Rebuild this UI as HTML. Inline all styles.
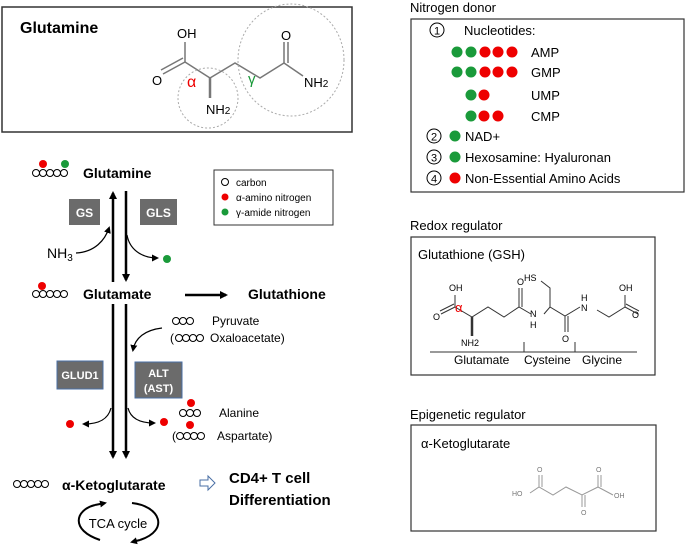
<!DOCTYPE html>
<html><head><style>
body{margin:0;background:#fff}
svg{display:block;font-family:"Liberation Sans",sans-serif}
.b{font-weight:bold}
</style></head><body>
<svg width="685" height="547" viewBox="0 0 685 547">
<defs>
<marker id="ah" markerWidth="8" markerHeight="8" refX="6" refY="4" orient="auto" markerUnits="userSpaceOnUse"><path d="M0,0L8,4L0,8z" fill="#000"/></marker>
<marker id="as" markerWidth="7" markerHeight="7" refX="5" refY="3.5" orient="auto" markerUnits="userSpaceOnUse"><path d="M0,0L7,3.5L0,7z" fill="#000"/></marker>
<g id="c3"><circle cx="0" cy="0" r="3.5"/><circle cx="7" cy="0" r="3.5"/><circle cx="14" cy="0" r="3.5"/></g>
<g id="c4"><use href="#c3"/><circle cx="21" cy="0" r="3.5"/></g>
<g id="c5"><use href="#c4"/><circle cx="28" cy="0" r="3.5"/></g>
</defs>
<!-- Top glutamine box -->
<rect x="2" y="7" width="350" height="125" fill="none" stroke="#333" stroke-width="1.5"/>
<text x="20" y="33" class="b" font-size="16">Glutamine</text>
<g stroke="#777" stroke-width="1.5" fill="none">
<path d="M185,62 L210,78 L235,63 L260,78 L284,63"/>
<path d="M185,62 L185,42"/><path d="M185,62 L163,74 M183,58 L161,70"/>
<path d="M284,63 L284,42 M288,63 L288,42"/><path d="M284,63 L303,76"/>
<path d="M210,78 L210,98" stroke-width="2.5"/>
</g>
<text x="177" y="38" font-size="13">OH</text>
<text x="152" y="85" font-size="13">O</text>
<text x="281" y="40" font-size="13">O</text>
<text x="206" y="114" font-size="13">NH<tspan font-size="10">2</tspan></text>
<text x="304" y="87" font-size="13">NH<tspan font-size="10">2</tspan></text>
<text x="187" y="87" font-size="16" fill="#e00">α</text>
<text x="248" y="84" font-size="15" fill="#1a9a3a">γ</text>
<circle cx="208" cy="98" r="30" fill="none" stroke="#aaa" stroke-dasharray="2,2"/>
<ellipse cx="291" cy="60" rx="53" ry="56" fill="none" stroke="#aaa" stroke-dasharray="2,2"/>

<!-- carbon chains -->
<g fill="#fff" stroke="#000" stroke-width="1">
<use href="#c5" x="36" y="173"/>
<use href="#c5" x="36" y="294"/>
<use href="#c5" x="17" y="484"/>
<use href="#c3" x="176" y="321"/>
<use href="#c4" x="179" y="338"/>
<use href="#c3" x="183" y="413"/>
<use href="#c4" x="180" y="436"/>
</g>
<circle cx="43" cy="164" r="4" fill="#e00"/><circle cx="65" cy="164" r="4" fill="#1a9a3a"/>
<circle cx="42" cy="286" r="4" fill="#e00"/>
<text x="83" y="178" class="b" font-size="14">Glutamine</text>
<text x="83" y="299" class="b" font-size="14">Glutamate</text>
<text x="248" y="299" class="b" font-size="14">Glutathione</text>
<text x="62" y="490" class="b" font-size="14">α-Ketoglutarate</text>
<text x="229" y="483" class="b" font-size="15">CD4+ T cell</text>
<text x="229" y="505" class="b" font-size="15">Differentiation</text>
<path d="M200,480h8v-4l7,7l-7,7v-4h-8z" fill="none" stroke="#4a6fa5"/>
<g stroke="#000" stroke-width="2.5" fill="none">
<path d="M113,282V193" marker-end="url(#ah)"/>
<path d="M126,191V280" marker-end="url(#ah)"/>
<path d="M113,304V457" marker-end="url(#ah)"/>
<path d="M126,304V457" marker-end="url(#ah)"/>
<path d="M185,295H226" marker-end="url(#ah)"/>
</g>
<g stroke="#000" stroke-width="1.2" fill="none">
<path d="M76,253 C95,252 105,240 109,228" marker-end="url(#as)"/>
<path d="M127,235 C130,252 145,258 157,258" marker-end="url(#as)"/>
<path d="M162,328 C145,330 135,338 133,350" marker-end="url(#as)"/>
<path d="M111,408 C108,420 98,424 84,424" marker-end="url(#as)"/>
<path d="M128,408 C131,420 142,423 154,423" marker-end="url(#as)"/>
</g>
<text x="47" y="258" font-size="14">NH<tspan font-size="10" dy="3">3</tspan></text>
<circle cx="167" cy="259" r="4" fill="#1a9a3a"/>
<circle cx="70" cy="424" r="4" fill="#e00"/>
<circle cx="164" cy="422" r="4" fill="#e00"/>
<circle cx="191" cy="403" r="4" fill="#e00"/>
<circle cx="190" cy="425" r="4" fill="#e00"/>
<text x="212" y="325" font-size="12">Pyruvate</text>
<text x="170" y="342" font-size="12">(</text>
<text x="210" y="342" font-size="12">Oxaloacetate)</text>
<text x="219" y="417" font-size="12">Alanine</text>
<text x="172" y="440" font-size="12">(</text>
<text x="217" y="440" font-size="12">Aspartate)</text>
<rect x="69" y="199" width="31" height="26" fill="#6b6b6b"/>
<text x="84.5" y="217" class="b" font-size="12" fill="#fff" text-anchor="middle">GS</text>
<rect x="140" y="199" width="37" height="26" fill="#6b6b6b"/>
<text x="158.5" y="217" class="b" font-size="12" fill="#fff" text-anchor="middle">GLS</text>
<rect x="57" y="361" width="46" height="28" fill="#6b6b6b" stroke="#4a6fa5"/>
<text x="80" y="379" class="b" font-size="11" fill="#fff" text-anchor="middle">GLUD1</text>
<rect x="135" y="362" width="47" height="36" fill="#6b6b6b" stroke="#4a6fa5"/>
<text x="158.5" y="377" class="b" font-size="11" fill="#fff" text-anchor="middle">ALT</text>
<text x="158.5" y="392" class="b" font-size="11" fill="#fff" text-anchor="middle">(AST)</text>
<!-- legend -->
<rect x="214" y="170" width="119" height="55" fill="#fff" stroke="#333"/>
<circle cx="225" cy="182" r="3.5" fill="none" stroke="#000"/>
<text x="236" y="186" font-size="10">carbon</text>
<circle cx="225" cy="197" r="3.5" fill="#e00"/>
<text x="236" y="201" font-size="10">α-amino nitrogen</text>
<circle cx="225" cy="212" r="3.5" fill="#1a9a3a"/>
<text x="236" y="216" font-size="10">γ-amide nitrogen</text>
<!-- TCA -->
<g stroke="#000" stroke-width="2" fill="none">
<path d="M95,505 C75,510 70,530 100,540" />
<path d="M132,503 C160,506 170,530 140,540" />
<path d="M95,505 L105,503" marker-end="url(#as)"/>
<path d="M140,540 L132,542" marker-end="url(#as)"/>
</g>
<text x="118" y="528" font-size="13" text-anchor="middle">TCA cycle</text>

<!-- Nitrogen donor -->
<text x="410" y="12" font-size="13">Nitrogen donor</text>
<rect x="411" y="19" width="273" height="173" fill="none" stroke="#333" stroke-width="1.2"/>
<g font-size="13">
<circle cx="437" cy="30" r="7" fill="none" stroke="#000"/><text x="437" y="34.5" font-size="11" text-anchor="middle">1</text>
<text x="464" y="35">Nucleotides:</text>
<text x="531" y="57">AMP</text><text x="531" y="77">GMP</text><text x="531" y="100">UMP</text><text x="531" y="121">CMP</text>
<circle cx="434" cy="136" r="7" fill="none" stroke="#000"/><text x="434" y="140.5" font-size="11" text-anchor="middle">2</text>
<text x="465" y="141">NAD+</text>
<circle cx="434" cy="157" r="7" fill="none" stroke="#000"/><text x="434" y="161.5" font-size="11" text-anchor="middle">3</text>
<text x="465" y="162">Hexosamine: Hyaluronan</text>
<circle cx="434" cy="178" r="7" fill="none" stroke="#000"/><text x="434" y="182.5" font-size="11" text-anchor="middle">4</text>
<text x="465" y="183">Non-Essential Amino Acids</text>
</g>
<g>
<circle cx="457" cy="52" r="5.5" fill="#1a9a3a"/><circle cx="471" cy="52" r="5.5" fill="#1a9a3a"/><circle cx="485" cy="52" r="5.5" fill="#e00"/><circle cx="498" cy="52" r="5.5" fill="#e00"/><circle cx="512" cy="52" r="5.5" fill="#e00"/>
<circle cx="457" cy="72" r="5.5" fill="#1a9a3a"/><circle cx="471" cy="72" r="5.5" fill="#1a9a3a"/><circle cx="485" cy="72" r="5.5" fill="#e00"/><circle cx="498" cy="72" r="5.5" fill="#e00"/><circle cx="512" cy="72" r="5.5" fill="#e00"/>
<circle cx="471" cy="95" r="5.5" fill="#1a9a3a"/><circle cx="484" cy="95" r="5.5" fill="#e00"/>
<circle cx="471" cy="116" r="5.5" fill="#1a9a3a"/><circle cx="484" cy="116" r="5.5" fill="#e00"/><circle cx="498" cy="116" r="5.5" fill="#e00"/>
<circle cx="455" cy="136" r="5.5" fill="#1a9a3a"/>
<circle cx="455" cy="157" r="5.5" fill="#1a9a3a"/>
<circle cx="455" cy="178" r="5.5" fill="#e00"/>
</g>

<!-- Redox -->
<text x="410" y="230" font-size="13">Redox regulator</text>
<rect x="411" y="237" width="244" height="138" fill="none" stroke="#333" stroke-width="1.2"/>
<text x="418" y="259" font-size="13">Glutathione (GSH)</text>
<g stroke="#333" stroke-width="1" fill="none">
<path d="M455,307 L472,317 L488,307 L504,317 L519,307 L531,314"/>
<path d="M455,307 V295 M455,307 L441,314 M454,304 L440,311"/>
<path d="M472,317 V336" stroke-width="2.5"/>
<path d="M519,307 V288 M522,307 V288"/>
<path d="M544,314 L550,307 L565,316 L580,307"/>
<path d="M550,307 V288 L541,281"/>
<path d="M565,316 V332 M568,316 V332"/>
<path d="M597,310 L609,317 L625,307 V295 M625,307 L638,314 M626,304 L639,311"/>
<path d="M430,352 H637 M524,342 V352 M575,342 V352"/>
</g>
<g font-size="9">
<text x="449" y="291">OH</text><text x="433" y="320">O</text>
<text x="461" y="346">NH2</text>
<text x="517" y="285">O</text><text x="524" y="281">HS</text>
<text x="530" y="317">N</text><text x="530" y="328">H</text>
<text x="581" y="301">H</text><text x="581" y="311">N</text>
<text x="562" y="342">O</text><text x="619" y="291">OH</text><text x="632" y="318">O</text>
</g>
<text x="455" y="312" font-size="13" fill="#e00">α</text>
<text x="454" y="364" font-size="12">Glutamate</text>
<text x="524" y="364" font-size="12">Cysteine</text>
<text x="582" y="364" font-size="12">Glycine</text>

<!-- Epigenetic -->
<text x="410" y="419" font-size="13">Epigenetic regulator</text>
<rect x="411" y="425" width="245" height="106" fill="none" stroke="#333" stroke-width="1.2"/>
<text x="421" y="448" font-size="13">α-Ketoglutarate</text>
<g stroke="#999" stroke-width="1" fill="none">
<path d="M530,493 L539,487 L553,495 L566,487 L582,495 L598,487 L613,495"/>
<path d="M539,487 V475 M542,487 V475 M582,495 V507 M585,495 V507 M598,487 V475 M601,487 V475"/>
</g>
<g font-size="7" fill="#777">
<text x="512" y="496">HO</text><text x="537" y="472">O</text><text x="581" y="515">O</text><text x="596" y="472">O</text><text x="614" y="498">OH</text>
</g>
</svg>
</body></html>
